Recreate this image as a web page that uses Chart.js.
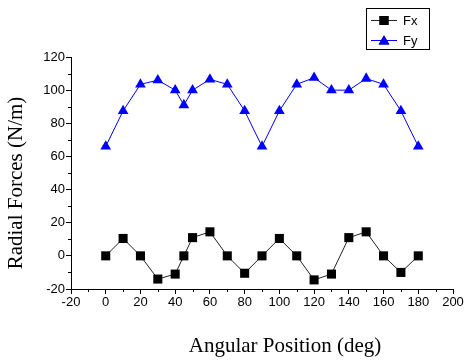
<!DOCTYPE html>
<html lang="en">
<head>
    <meta charset="UTF-8">
    <title>Radial Forces</title>
    <script src="https://cdn.jsdelivr.net/npm/chart.js"></script>
    <style>
        html, body { margin: 0; padding: 0; background: #fff; }
        #wrap { width: 465px; height: 361px; }
    </style>
</head>
<body>
    <div id="wrap"><canvas id="chart" width="465" height="361"></canvas></div>

    <script>
        // angular positions (deg)
        const angles = [0, 10, 20, 30, 40, 45, 50, 60, 70, 80, 90, 100, 110, 120, 130, 140, 150, 160, 170, 180];
        const fx = [0, 10.5, 0, -14, -11, 0, 11, 14.5, 0, -10.5, 0, 10.5, 0, -14.5, -11, 11, 14.5, 0, -10, 0];
        const fy = [66, 87.5, 103.5, 106, 100, 91, 100, 106.5, 103.5, 87.5, 66, 87.5, 103.5, 107.5, 100, 100, 107, 103.5, 87.5, 66];
        const xTicks = [-20, 0, 20, 40, 60, 80, 100, 120, 140, 160, 180, 200];
        const yTicks = [-20, 0, 20, 40, 60, 80, 100, 120];
        const xTitle = 'Angular Position (deg)';
        const yTitle = 'Radial Forces (N/m)';

        function toPoints(ys) {
            return angles.map((a, i) => ({ x: a, y: ys[i] }));
        }

        // minor ticks between the labelled ones
        const minorTicks = {
            id: 'minorTicks',
            afterDraw(chart) {
                const ctx = chart.ctx;
                const xs = chart.scales.x, ys = chart.scales.y;
                ctx.save();
                ctx.strokeStyle = '#000';
                ctx.lineWidth = 1;
                ctx.beginPath();
                for (let v = xs.min + 10; v < xs.max; v += 20) {
                    const px = Math.round(xs.getPixelForValue(v)) + 0.5;
                    ctx.moveTo(px, xs.top);
                    ctx.lineTo(px, xs.top + 3);
                }
                for (let v = ys.min + 10; v < ys.max; v += 20) {
                    const py = Math.round(ys.getPixelForValue(v)) + 0.5;
                    ctx.moveTo(ys.right, py);
                    ctx.lineTo(ys.right - 3, py);
                }
                ctx.stroke();
                ctx.restore();
            }
        };

        // axis titles, placed like the original (not centred on the plot)
        const axisTitles = {
            id: 'axisTitles',
            afterDraw(chart) {
                const ctx = chart.ctx;
                ctx.save();
                ctx.fillStyle = '#000';
                ctx.font = '21px "Liberation Serif", "Times New Roman", serif';
                ctx.textAlign = 'center';
                ctx.textBaseline = 'alphabetic';
                ctx.fillText(xTitle, 285, 352);
                ctx.translate(22, 183);
                ctx.rotate(-Math.PI / 2);
                ctx.fillText(yTitle, 0, 0);
                ctx.restore();
            }
        };

        // boxed legend in the top right corner
        const boxLegend = {
            id: 'boxLegend',
            afterDraw(chart) {
                const ctx = chart.ctx;
                ctx.save();
                ctx.strokeStyle = '#000';
                ctx.lineWidth = 1;
                ctx.strokeRect(366.5, 8.5, 63, 41);
                ctx.font = '13px "Liberation Sans", Arial, sans-serif';
                ctx.textBaseline = 'middle';
                chart.data.datasets.forEach((ds, i) => {
                    const y = 20 + i * 20;
                    ctx.strokeStyle = ds.borderColor;
                    ctx.beginPath();
                    ctx.moveTo(371, y + 0.5);
                    ctx.lineTo(397, y + 0.5);
                    ctx.stroke();
                    Chart.helpers.drawPoint(ctx, {
                        pointStyle: ds.pointStyle,
                        radius: ds.pointRadius,
                        borderWidth: 0
                    }, 384, i === 1 ? y + 1.5 : y + 0.5);
                    ctx.fillStyle = ds.pointBackgroundColor;
                    ctx.fill();
                    ctx.fillStyle = '#000';
                    ctx.fillText(ds.label, 403, y + 1);
                });
                ctx.restore();
            }
        };

        const tickFont = { family: '"Liberation Sans", Arial, sans-serif', size: 13 };

        new Chart(document.getElementById('chart'), {
            type: 'line',
            data: {
                datasets: [{
                    label: 'Fx',
                    data: toPoints(fx),
                    borderColor: '#222',
                    borderWidth: 1,
                    pointStyle: 'rect',
                    pointRadius: 6.4,
                    pointBackgroundColor: '#000',
                    pointBorderWidth: 0,
                    tension: 0
                }, {
                    label: 'Fy',
                    data: toPoints(fy),
                    borderColor: '#0000ff',
                    borderWidth: 1,
                    pointStyle: 'triangle',
                    pointRadius: 6.2,
                    pointBackgroundColor: '#0000ff',
                    pointBorderWidth: 0,
                    tension: 0
                }]
            },
            options: {
                responsive: false,
                animation: false,
                layout: { padding: { top: 57, right: 12, left: 0, bottom: 0 } },
                plugins: {
                    legend: { display: false },
                    tooltip: { enabled: false }
                },
                scales: {
                    x: {
                        type: 'linear',
                        min: -20,
                        max: 200,
                        afterBuildTicks: s => { s.ticks = xTicks.map(v => ({ value: v })); },
                        afterFit: s => { s.height = 72; },
                        border: { display: true, color: '#000', width: 1 },
                        grid: { drawOnChartArea: false, drawTicks: true, tickLength: 5, color: '#000' },
                        ticks: { color: '#000', font: tickFont, padding: 1, maxRotation: 0 }
                    },
                    y: {
                        type: 'linear',
                        min: -20,
                        max: 120,
                        afterBuildTicks: s => { s.ticks = yTicks.map(v => ({ value: v })); },
                        afterFit: s => { s.width = 71; },
                        border: { display: true, color: '#000', width: 1 },
                        grid: { drawOnChartArea: false, drawTicks: true, tickLength: 5, color: '#000' },
                        ticks: { color: '#000', font: tickFont, padding: 1 }
                    }
                }
            },
            plugins: [minorTicks, axisTitles, boxLegend]
        });
    </script>
</body>
</html>
